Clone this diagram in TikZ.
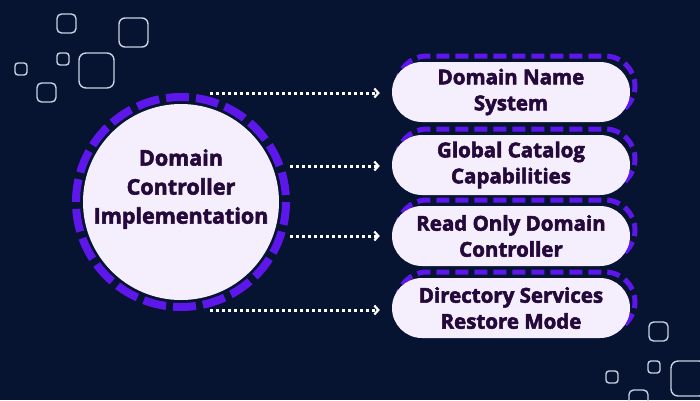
\documentclass[tikz,border=0pt]{standalone}
\usepackage{fontspec}
\setmainfont{Open Sans}[BoldFeatures={FakeBold=2.6}]
\usetikzlibrary{arrows.meta}
\definecolor{bgc}{HTML}{061431}
\definecolor{vio}{HTML}{5E17EB}
\definecolor{lav}{HTML}{F4EEFD}
\definecolor{ink}{HTML}{24093A}
\definecolor{deco}{HTML}{C9D1E2}
\pgfdeclarelayer{bg}
\pgfdeclarelayer{mid}
\pgfsetlayers{bg,mid,main}
\tikzset{
  decosq/.style={draw=deco, line width=1.4pt},
  hub/.style={circle, fill=lav, minimum size=196pt, inner sep=0pt},
  hubtext/.style={text=ink, font=\fontsize{21.5}{29}\selectfont\bfseries, align=center, inner sep=0pt},
  ring/.style={draw=vio, line width=8pt, dash pattern=on 23pt off 6.99pt},
  pill/.style={rectangle, rounded corners=30pt, fill=lav, minimum width=238pt, minimum height=60pt, inner sep=0pt,
    text=ink, font=\fontsize{20.5}{26}\selectfont\bfseries, align=center},
  pilldash/.style={draw=vio, line width=5pt, dash pattern=on 13pt off 6pt, rounded corners=30pt},
  conn/.style={draw=white, line width=3pt, dash pattern=on 3pt off 3pt,
    -{Straight Barb[length=4pt,width=9pt,line width=2.2pt]}, shorten >=12pt}
}
\begin{document}
\begin{tikzpicture}[x=1pt,y=-1pt]
\useasboundingbox (0,0) rectangle (700,400);
\begin{pgfonlayer}{bg}
  \clip (0,0) rectangle (700,400);
  \fill[bgc] (0,0) rectangle (700,400);
  \draw[decosq, rounded corners=4.5pt] (57,14) rectangle ++(19,19);
  \draw[decosq, rounded corners=6pt] (119,18) rectangle ++(29,29);
  \draw[decosq, rounded corners=3pt] (57,53) rectangle ++(12,12);
  \draw[decosq, rounded corners=7pt] (79,53) rectangle ++(35,35);
  \draw[decosq, rounded corners=3pt] (15,63) rectangle ++(12,12);
  \draw[decosq, rounded corners=4.5pt] (37,83) rectangle ++(19,19);
  \draw[decosq, rounded corners=4.5pt] (649,322) rectangle ++(19,19);
  \draw[decosq, rounded corners=3pt] (648,361) rectangle ++(12,12);
  \draw[decosq, rounded corners=7pt] (671,361) rectangle ++(35,35);
  \draw[decosq, rounded corners=3pt] (606,371) rectangle ++(12,12);
  \draw[decosq, rounded corners=4.5pt] (629,390) rectangle ++(19,19);
\end{pgfonlayer}

% hub
\node[hub] (dc) at (181,202) {};
\draw[ring] (dc.center) circle (105);
\node[hubtext] (dct) at ([yshift=13pt]dc.center) {Domain\\Controller\\Implementation};

% boxes
\node[pill] (b1) at (511,92) {Domain Name\\System};
\node[pill] (b2) at (511,165) {Global Catalog\\Capabilities};
\node[pill] (b3) at (511,236) {Read Only Domain\\Controller};
\node[pill] (b4) at (511,308) {Directory Services\\Restore Mode};

\begin{pgfonlayer}{mid}
  \foreach \b in {b1,b2,b3,b4}{
    \draw[pilldash] ([shift={(-114,-36)}]\b.center) rectangle ++(238,60);
  }
\end{pgfonlayer}

% connectors
\coordinate (s1) at (210,93);
\coordinate (s2) at (290,166);
\coordinate (s3) at (290,236);
\coordinate (s4) at (210,310);
\draw[conn] (s1) -- (s1 -| b1.west);
\draw[conn] (s2) -- (s2 -| b2.west);
\draw[conn] (s3) -- (s3 -| b3.west);
\draw[conn] (s4) -- (s4 -| b4.west);
\end{tikzpicture}
\end{document}
